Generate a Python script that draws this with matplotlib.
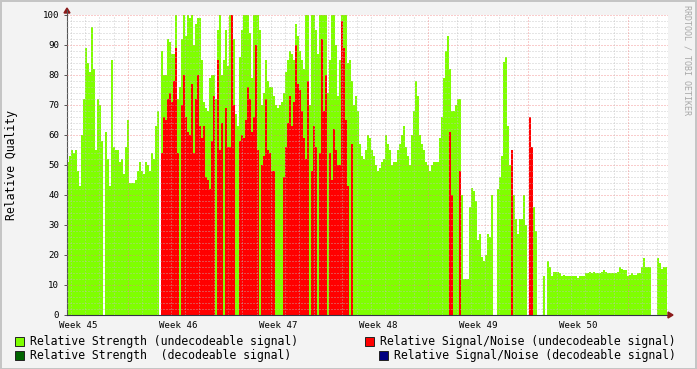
import numpy as np
import matplotlib
matplotlib.use('Agg')
import matplotlib.pyplot as plt
from matplotlib.patches import Rectangle, Polygon

plt.rcParams['lines.scale_dashes'] = False

nan = np.nan

# relative strength (undecodeable), one value per 2 px column, week 45 .. week 50
green_a = [51, 53, 55, 54, 55, 48, 43, 60, 72, 89,
           84, 81, 96, 82, 55, 72, 70, 58, nan, 61,
           52, 43, 85, 56, 55, 55, 51, 52, 47, 56,
           65, 44, 44, 44, 45, 48, 51, 48, 47, 51,
           50, 48, 54, 52, 63, 68, nan, 88, 80, 80]
green_b = [92, 91, 87, 87, 100, 72, 76, 92, 100, 93,
           100, 99, 100, 90, 97, 99, 99, 85, 71, 69,
           68, 79, 80, 80, 72, 95, 100, 80, 85, 95,
           83, 100, 100, 92, 67, 63, 86, 95, 100, 100,
           100, 94, 79, 100, 100, 100, 95, 70, 74, 85]
green_c = [78, 76, 76, 73, 70, 69, 70, 71, 74, 81,
           85, 88, 87, 85, 97, 93, 88, 85, 82, 100,
           100, 70, 100, 100, 95, 87, 100, 100, 100, 100,
           74, 85, 100, 100, 90, 73, 85, 100, 100, 100,
           84, 85, 78, 70, 73, 68, 57, 53, 52, 55]
green_d = [60, 59, 55, 53, 50, 48, 49, 51, 52, 60,
           57, 55, 50, 51, 51, 55, 57, 60, 63, 56,
           53, 50, 60, 68, 78, 73, 60, 57, 55, 51,
           50, 48, 50, 51, 51, 51, 59, 66, 79, 88,
           93, 82, 68, 68, 70, 72, 72, 40, 12, 12]
green_e = [12, 36, 42.5, 41.5, 38, 25, 27, 19.5, 18, 20,
           27, 26, 40, nan, nan, 42, 46, 53, 84.5, 86,
           63, 50, 45, 40, 32, 27, 32, 32, 40, 30,
           nan, nan, 37, 36, 28, nan, nan, nan, 13, nan,
           18, 16, 13, 14.5, 14.5, 14.5, 14, 13, 13.5, 13]
green_f = [13, 13, 13, 13, 13, 12.5, 13, 13, 13, 14,
           14, 14.5, 14, 14.5, 14, 14, 14, 14.5, 15, 14.5,
           14, 14, 14, 14, 14, 14.5, 16, 15.5, 15, 15,
           13, 13.5, 14, 13.5, 13.5, 14, 14, 16, 19, 16,
           16, 16, nan, nan, nan, 19, 17.5, 15.5, 16, 16]

# relative signal/noise (undecodeable)
red_a = [0] * 47 + [54, 66, 65]
red_b = [72, 74, 71, 78, 89, 54, 0, 70, 80, 66,
         61, 60, 77, 54, 72, 80, 63, 59, 63, 46,
         45, 42, 58, 73, 0, 85, 55, 64, 0, 69,
         56, 56, 100, 70, 0, 0, 58, 60, 59, 65,
         76, 72, 61, 66, 90, 55, 0, 50, 53, 72]
red_c = [55, 54, 48, 48, 0, 0, 0, 0, 46, 56,
         64, 73, 63, 71, 90, 77, 75, 68, 59, 52,
         78, 0, 48, 63, 56, 0, 54, 92, 68, 80,
         0, 54, 45, 62, 55, 50, 50, 98, 89, 65,
         43, 0, 57, 0, 0, 0, 0, 0, 0, 0]
red_d = [0] * 41 + [61, 40, 0, 0, 0, 48, 0, 0, 0]
red_e = [0] * 22 + [55] + [0] * 8 + [66, 56] + [0] * 17
red_f = [0] * 50

week_labels = ['Week 45', 'Week 46', 'Week 47', 'Week 48', 'Week 49', 'Week 50']

green = np.concatenate([green_a, green_b, green_c, green_d, green_e, green_f]).astype(float)
red = np.concatenate([red_a, red_b, red_c, red_d, red_e, red_f]).astype(float)
idx = np.arange(len(green))

W, H = 697, 369
BG = '#F3F3F3'
MONO = 'DejaVu Sans Mono'

fig = plt.figure(figsize=(W / 100, H / 100), dpi=100, facecolor=BG)
ax = fig.add_axes([67 / W, (H - 315) / H, 601 / W, 300 / H])
ax.set_facecolor('white')

ax.bar(idx, green, width=1, align='edge', color='#7FFF00', linewidth=0, antialiased=False, zorder=1)
ax.bar(idx, red, width=1, align='edge', color='#FF0000', linewidth=0, antialiased=False, zorder=2)

ax.set_xlim(0, 300.5)
ax.set_ylim(0, 100)

# grid (dotted, drawn over the areas like rrdtool does)
dot = (0, (0.72, 1.44))
minor_kw = dict(color='#BEBEBE', alpha=0.8, lw=0.72, ls=dot, zorder=3)
major_kw = dict(color='#F08080', alpha=0.8, lw=0.72, ls=dot, zorder=3)
for y in range(2, 101, 2):
    if y % 10:
        ax.axhline(y, **minor_kw)
for y in range(10, 101, 10):
    ax.axhline(y, **major_kw)
day = 50 / 7
week_pos = [30.5 + 50 * k for k in range(6)]
for d in np.arange(30.5 - 4 * day, 300.5, day):
    if min(abs(d - w) for w in week_pos) > 0.1:
        ax.axvline(d, **minor_kw)
for w in week_pos:
    ax.axvline(w, **major_kw)

for s in ['top', 'right']:
    ax.spines[s].set_visible(False)
ax.spines['left'].set_color('#555555')
ax.spines['bottom'].set_color('#333344')
ax.spines['left'].set_linewidth(0.8)
ax.spines['bottom'].set_linewidth(0.8)

ax.set_yticks(range(0, 101, 10))
ax.set_yticklabels([str(v) for v in range(0, 101, 10)], fontsize=6.6, family=MONO)
ax.tick_params(axis='y', length=2.5, width=0.7, color='#555555', pad=3)
ax.set_xticks([5.5 + 50 * k for k in range(6)])
ax.set_xticklabels(week_labels, fontsize=6.6, family=MONO)
ax.tick_params(axis='x', length=0, pad=4)

# axis arrows
def fx(px):
    return px / W

def fy(py):
    return 1 - py / H

fig.add_artist(Polygon([(fx(668), fy(312)), (fx(668), fy(318)), (fx(673), fy(315))],
                       closed=True, color='#8B1A1A', transform=fig.transFigure))
fig.add_artist(Polygon([(fx(64), fy(13)), (fx(70), fy(13)), (fx(67), fy(8))],
                       closed=True, color='#8B1A1A', transform=fig.transFigure))
fig.add_artist(plt.Line2D([fx(67), fx(67)], [fy(15), fy(10)], color='#555555', lw=0.8))

fig.text(fx(12), fy(165), 'Relative Quality', rotation=90, ha='center', va='center',
         fontsize=8.3, family=MONO, color='black')
fig.text(fx(687), fy(5), 'RRDTOOL / TOBI OETIKER', rotation=270, ha='center', va='top',
         fontsize=6, family=MONO, color='#A8A8A8')

# legend
legend = [
    (15, 341, '#7FFF00', 'Relative Strength (undecodeable signal)'),
    (15, 355, '#006400', 'Relative Strength  (decodeable signal)'),
    (365, 341, '#FF0000', 'Relative Signal/Noise (undecodeable signal)'),
    (379, 355, '#000080', 'Relative Signal/Noise (decodeable signal)'),
]
for px, py, col, label in legend:
    fig.add_artist(Rectangle((fx(px), fy(py + 4.5)), 9 / W, 9 / H, facecolor=col,
                             edgecolor='#222222', lw=0.7, transform=fig.transFigure))
    fig.text(fx(px + 15), fy(py), label, ha='left', va='center', fontsize=8.3,
             family=MONO, color='black')

# frame shading
fig.add_artist(Rectangle((0.5 / W, 0.5 / H), (W - 1.5) / W, (H - 1.5) / H, fill=False,
                         edgecolor='#C4C4C4', lw=1.4, transform=fig.transFigure))

fig.savefig('out.png', dpi=100, facecolor=BG)
